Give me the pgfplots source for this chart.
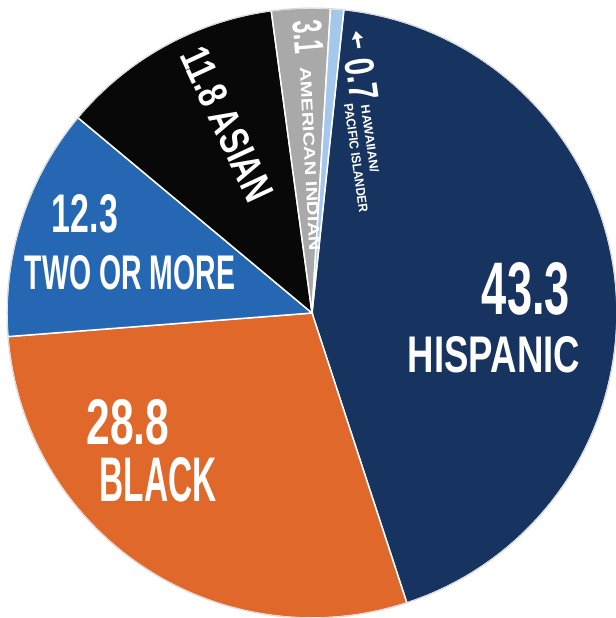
\documentclass[border=0pt]{standalone}
\usepackage{pgfplots}
\pgfplotsset{compat=1.18}
\usepgfplotslibrary{polar}
\usepackage{pgfplotstable}
\usepackage{graphicx}
\usetikzlibrary{arrows.meta}
\usepackage{fontspec}
\setmainfont{Liberation Sans}

\definecolor{cHisp}{HTML}{17335F}
\definecolor{cBlack}{HTML}{E0682A}
\definecolor{cTwo}{HTML}{2567B3}
\definecolor{cAsian}{HTML}{080808}
\definecolor{cAmInd}{HTML}{A9A9A9}
\definecolor{cHaw}{HTML}{A4C8EC}

% share of students by race, percent (clockwise from the top)
\pgfplotstableread{
label          pct   color
Hispanic       43.3  cHisp
Black          28.8  cBlack
TwoOrMore      12.3  cTwo
Asian          11.8  cAsian
AmericanIndian 3.1   cAmInd
HawaiianPI     0.7   cHaw
}\racedata

\newdimen\pxu \pxu=0.75pt
% label: x, y (px), text, rotation, width, height (px)
\newcommand\lab[6]{%
  \node[text=white, rotate=#4, inner sep=0pt] at (#1,#2)
    {\resizebox{#5\pxu}{#6\pxu}{\bfseries #3}};}

\xdef\angA{84}

\begin{document}
\begin{tikzpicture}
\begin{polaraxis}[
    hide axis, scale only axis,
    width=457.5pt, height=457.5pt,
    xmin=0, xmax=360, ymin=0, ymax=1,
    clip=false,
  ]
  \coordinate (C) at (axis cs:0,0);
  \pgfplotsforeachungrouped \r in {0,...,5}{%
    \pgfplotstablegetelem{\r}{pct}\of\racedata
    \let\pct\pgfplotsretval
    \pgfplotstablegetelem{\r}{color}\of\racedata
    \let\col\pgfplotsretval
    \pgfmathsetmacro\angB{\angA-3.6*\pct}%
    \edef\tmp{\noexpand\addplot[fill=\col, draw=white, line width=1.1pt,
        domain=\angB:\angA, samples=80] {1} -- (axis cs:0,0) -- cycle;}%
    \tmp
    \xdef\angA{\angB}%
  }
  \addplot[draw=gray!30, line width=0.8pt, domain=0:360, samples=200] {1};
\end{polaraxis}

\begin{scope}[shift={(C)}, x=0.75pt, y=-0.75pt, shift={(-312,-313)}]
  \lab{526}{289}{43.3}{0}{88}{52}
  \lab{494}{355}{HISPANIC}{0}{172}{36}
  \lab{128}{422}{28.8}{0}{83}{45}
  \lab{158}{480}{BLACK}{0}{117}{44}
  \lab{85}{214}{12.3}{0}{66}{38}
  \lab{130}{273}{TWO OR MORE}{0}{210}{34}
  \lab{227}{124}{11.8 ASIAN}{-65}{165}{29}
  \lab{308}{37}{3.1}{-85}{33}{29}
  \lab{310}{159}{AMERICAN INDIAN}{-87}{184}{11}
  \lab{362}{79}{0.7}{-82}{42}{29}
  \lab{370}{139}{HAWAIIAN/}{-82}{68}{9}
  \lab{356}{158}{PACIFIC ISLANDER}{-82}{110}{9}
  \draw[white, line width=2.4pt, -{Triangle[length=6pt, width=8pt]}] (359,48) -- (356,31);
  \pgfresetboundingbox
  \path[use as bounding box] (0,0) rectangle (615,618);
\end{scope}
\end{tikzpicture}
\end{document}
